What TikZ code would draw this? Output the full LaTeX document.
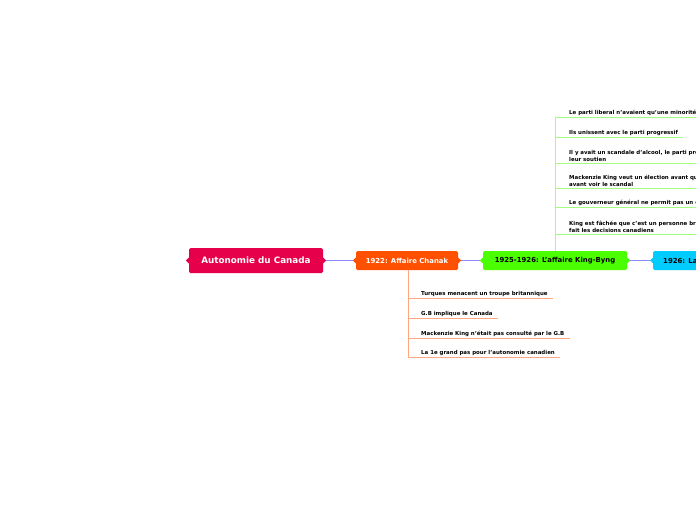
\documentclass[tikz,border=0pt]{standalone}
\usepackage{fontspec}
\setmainfont{DejaVu Sans}
\usetikzlibrary{positioning}
\definecolor{rootred}{HTML}{E6004C}
\definecolor{chanakor}{HTML}{FF5000}
\definecolor{byngreen}{HTML}{4CFF00}
\definecolor{balfcyan}{HTML}{00CCFF}
\definecolor{linkblue}{HTML}{8C8CFF}
\definecolor{orline}{HTML}{FFA880}
\definecolor{grline}{HTML}{A0FF80}

\begin{document}
\begin{tikzpicture}[
  x=1pt, y=-1pt,
  rootn/.style={rectangle, rounded corners=1.5pt, fill=rootred, text=white,
                minimum width=134pt, minimum height=25pt, inner sep=0pt,
                font=\fontsize{8.8}{10}\selectfont\bfseries},
  topic/.style={rectangle, rounded corners=1.5pt, minimum height=19pt, inner sep=0pt,
                font=\fontsize{6.9}{8}\selectfont\bfseries},
  item/.style={anchor=south west, align=left, inner xsep=0pt, inner ysep=1.6pt,
               font=\fontsize{5.45}{7}\selectfont\bfseries},
  link/.style={draw=linkblue, line width=0.9pt},
  oline/.style={draw=orline, line width=0.8pt},
  gline/.style={draw=grline, line width=0.8pt}
]
\useasboundingbox[fill=white] (0,0) rectangle (696,520);

% ---------------------------------------------- main row
\node[rootn] (root) at (256,260.5) {Autonomie du Canada};
\node[topic, fill=chanakor, text=white, minimum width=102pt] (chanak) at (407,260.5)
  {1922: Affaire Chanak};
\node[topic, fill=byngreen, text=black, minimum width=144pt] (byng) at (555,260.5)
  {1925-1926: L'affaire King-Byng};
\node[topic, fill=balfcyan, text=black, anchor=west, inner xsep=10pt] (balfour) at (653,260.5)
  {1926: La déclaration Balfour};

\draw[link] (root) -- (chanak);
\draw[link] (chanak) -- (byng);
\draw[link] (byng) -- (balfour);

% small tabs on the sides of each topic
\foreach \n/\c in {root/rootred, chanak/chanakor, byng/byngreen, balfour/balfcyan}{
  \fill[\c] (\n.west) ++(0,-3) -- ++(-3,3) -- ++(3,3) -- cycle;
  \fill[\c] (\n.east) ++(0,-3) -- ++(3,3) -- ++(-3,3) -- cycle;
}

% ---------------------------------------------- 1922: below
\coordinate (ospine) at (408,270);
\node[item] (o1) at (421,298) {Turques menacent un troupe britannique};
\node[item] (o2) at (421,318) {G.B implique le Canada};
\node[item] (o3) at (421,338) {Mackenzie King n'était pas consulté par le G.B};
\node[item] (o4) at (421,357) {La 1e grand pas pour l'autonomie canadien};

\draw[oline] (ospine) -- (ospine |- o4.south);
\foreach \i in {1,...,4}
  \draw[oline] (ospine |- o\i.south) -- ([xshift=5pt]o\i.south east);

% ---------------------------------------------- 1925-1926: above
\coordinate (gspine) at (555,251);
\node[item] (g1) at (569,117) {Le parti liberal n'avaient qu'une minorité};
\node[item] (g2) at (569,137) {Ils unissent avec le parti progressif};
\node[item] (g3) at (569,163) {Il y avait un scandale d'alcool, le parti progressif retire\\leur soutien};
\node[item] (g4) at (569,188) {Mackenzie King veut un élection avant que les gens\\avant voir le scandal};
\node[item] (g5) at (569,207) {Le gouverneur général ne permit pas un élection};
\node[item] (g6) at (569,234) {King est fâchée que c'est un personne britannique qui\\fait les decisions canadiens};

\draw[gline] (gspine) -- (gspine |- g1.south);
\foreach \i in {1,...,6}
  \draw[gline] (gspine |- g\i.south) -- ([xshift=5pt]g\i.south east);

\end{tikzpicture}
\end{document}
